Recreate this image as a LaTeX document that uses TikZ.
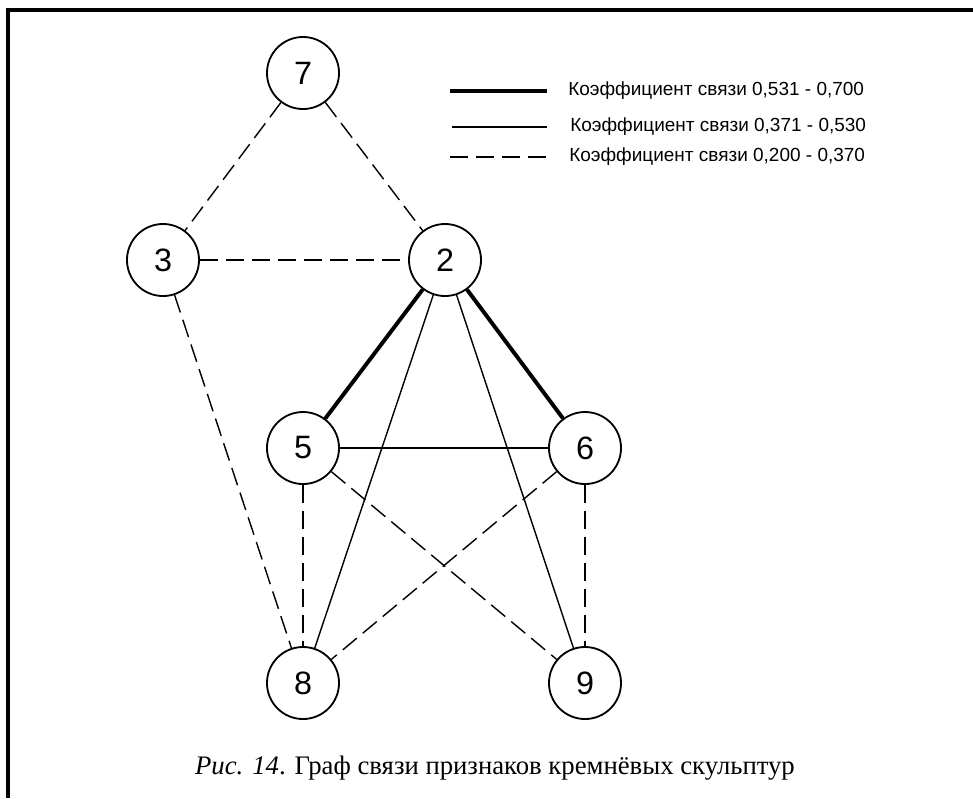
\documentclass[tikz,border=0pt]{standalone}
\usepackage{fontspec}
\setmainfont{Liberation Serif}
\setsansfont{Liberation Sans}
\usetikzlibrary{positioning}

\tikzset{
  vertex/.style={draw, circle, line width=1.3pt, minimum size=1.8cm, inner sep=0,
    font=\sffamily\fontsize{23}{23}\selectfont},
  strong/.style={line width=2.8pt},
  medium/.style={line width=1pt},
  weak/.style={line width=1pt, dash pattern=on 13pt off 5.5pt},
  keytext/.style={anchor=west, inner sep=0, font=\sffamily\fontsize{13.5}{13.5}\selectfont},
}

\begin{document}
\begin{tikzpicture}[x=0.025cm, y=-0.025cm]
\useasboundingbox (0,0) rectangle (973,798);
\draw[line width=2.2pt] (8,798) -- (8,10) -- (973,10);

% vertices
\node[vertex] (v7) at (303,73) {7};
\node[vertex] (v3) at (163,260) {3};
\node[vertex] (v2) at (445,260) {2};
\node[vertex] (v5) at (303,448) {5};
\node[vertex] (v6) at (585,448) {6};
\node[vertex] (v8) at (303,683) {8};
\node[vertex] (v9) at (585,683) {9};

% edges
\draw[strong] (v2) -- (v5);
\draw[strong] (v2) -- (v6);
\draw[medium] (v2) -- (v8);
\draw[medium] (v2) -- (v9);
\draw[medium] (v5) -- (v6);
\draw[weak] (v7) -- (v3);
\draw[weak] (v7) -- (v2);
\draw[weak] (v3) -- (v2);
\draw[weak] (v3) -- (v8);
\draw[weak] (v5) -- (v8);
\draw[weak] (v5) -- (v9);
\draw[weak] (v6) -- (v8);
\draw[weak] (v6) -- (v9);

% legend
\coordinate (k1a) at (450,91);
\coordinate (k1b) at (547,91);
\coordinate (k2a) at (452,127);
\coordinate (k2b) at (547,127);
\coordinate (k3a) at (450,157);
\coordinate (k3b) at (547,157);
\draw[strong] (k1a) -- (k1b);
\draw[medium] (k2a) -- (k2b);
\draw[weak] (k3a) -- (k3b);
\node[keytext] (t1) at (568,91) {Коэффициент связи 0,531 - 0,700};
\node[keytext] (t2) at (570,127) {Коэффициент связи 0,371 - 0,530};
\node[keytext] (t3) at (569,157) {Коэффициент связи 0,200 - 0,370};

% caption
\node[font=\fontsize{19}{19}\selectfont] (cap) at (495,768) {\textit{Рис. 14}. Граф связи признаков кремнёвых скульптур};
\end{tikzpicture}
\end{document}
